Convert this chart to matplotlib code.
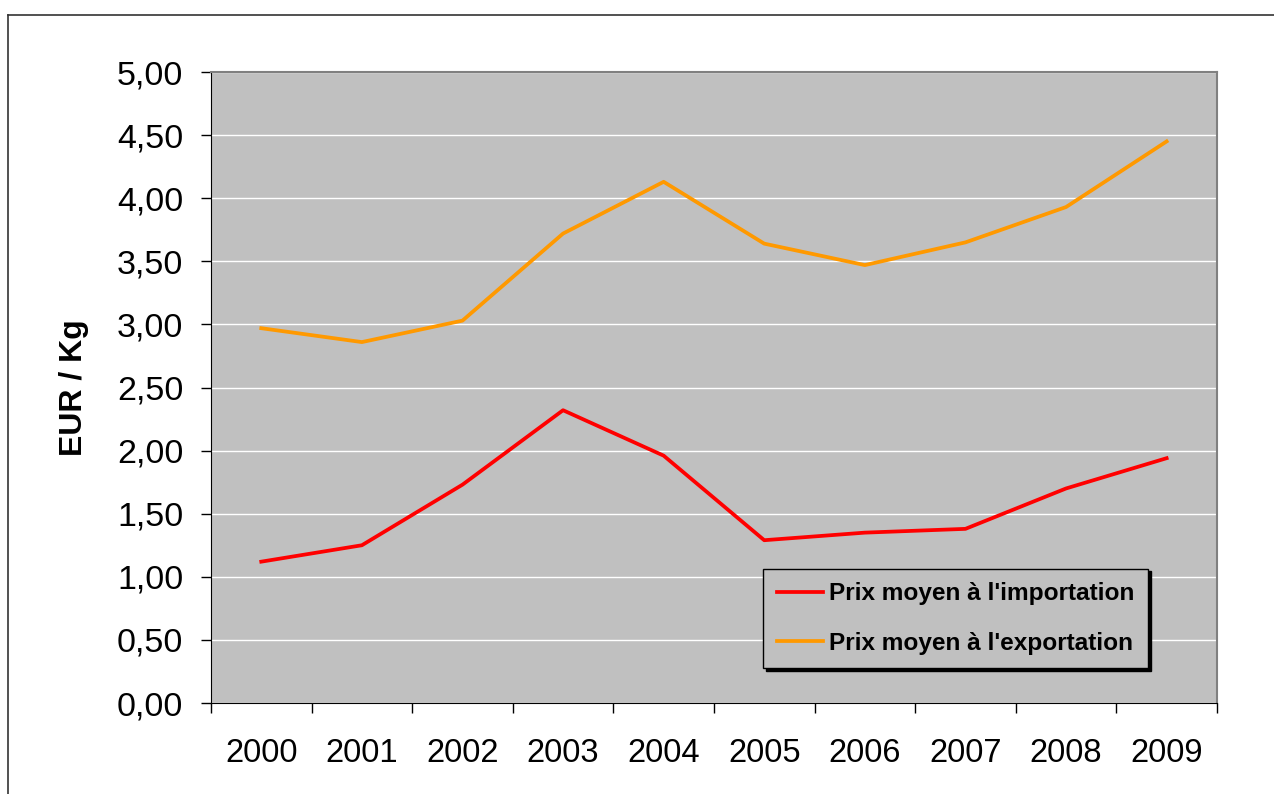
import matplotlib.pyplot as plt
from matplotlib.lines import Line2D
from matplotlib.ticker import FuncFormatter

years = ["2000", "2001", "2002", "2003", "2004", "2005", "2006", "2007", "2008", "2009"]
prix_import = [1.12, 1.25, 1.73, 2.32, 1.96, 1.29, 1.35, 1.38, 1.70, 1.94]
prix_export = [2.97, 2.86, 3.03, 3.72, 4.13, 3.64, 3.47, 3.65, 3.93, 4.45]
labels = ["Prix moyen à l'importation", "Prix moyen à l'exportation"]

plt.rcParams['font.family'] = ['Liberation Sans', 'DejaVu Sans']

fig = plt.figure(figsize=(12.74, 7.94), dpi=100)
ax = fig.add_axes([0.1656, 0.1146, 0.7896, 0.7947])
ax.set_facecolor('#C0C0C0')

x = [i + 0.5 for i in range(len(years))]
ax.plot(x, prix_import, color='#FF0000', lw=2.7, label=labels[0])
ax.plot(x, prix_export, color='#FF9900', lw=2.7, label=labels[1])

ax.set_xlim(0, len(years))
ax.set_ylim(0, 5)
ax.set_yticks([i * 0.5 for i in range(11)])
ax.yaxis.set_major_formatter(FuncFormatter(lambda v, p: f"{v:.2f}".replace('.', ',')))
ax.grid(axis='y', color='white', lw=1)
ax.set_axisbelow(True)

# category ticks on boundaries, labels centered
ax.set_xticks(range(len(years) + 1))
ax.set_xticklabels([])
ax.set_xticks(x, minor=True)
ax.set_xticklabels(years, minor=True)
ax.tick_params(axis='x', which='major', direction='out', length=7, width=1)
ax.tick_params(axis='x', which='minor', length=0, pad=25, labelsize=23.5)
ax.tick_params(axis='y', direction='out', length=7, width=1, pad=13, labelsize=24.5)

for s in ['left', 'bottom']:
    ax.spines[s].set_color('black')
for s in ['top', 'right']:
    ax.spines[s].set_color('#808080')
    ax.spines[s].set_linewidth(1.5)

ax.set_ylabel("EUR / Kg", fontsize=23, fontweight='bold', labelpad=20)

leg = ax.legend(loc='lower left', bbox_to_anchor=(0.549, 0.0555), borderaxespad=0,
                prop={'weight': 'bold', 'size': 17.6}, frameon=True, fancybox=False,
                facecolor='#C0C0C0', edgecolor='black', framealpha=1,
                shadow={'color': 'black', 'alpha': 1},
                handlelength=1.9, handletextpad=0.25, labelspacing=1.08,
                borderpad=0.55)
leg.get_frame().set_linewidth(1)

# outer chart border (top and left visible)
fig.add_artist(Line2D([8 / 1274, 1.0], [1 - 15 / 794] * 2, color='#333333', lw=1.2))
fig.add_artist(Line2D([8 / 1274] * 2, [0.0, 1 - 15 / 794], color='#333333', lw=1.2))

fig.savefig("out.png", dpi=100)
